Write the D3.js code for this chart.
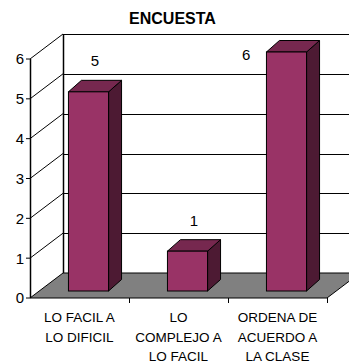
<!DOCTYPE html>
<html>
<head>
<meta charset="utf-8">
<script src="https://cdn.jsdelivr.net/npm/d3@7"></script>
<style>
  html, body { margin: 0; padding: 0; background: #fff; }
  svg { display: block; font-family: Arial, "Liberation Sans", sans-serif; }
</style>
</head>
<body>
<svg id="chart" width="349" height="364"></svg>
<script>
// Survey results
const title = "ENCUESTA";
const categories = [
  ["LO FACIL A", "LO DIFICIL"],
  ["LO", "COMPLEJO A", "LO FACIL"],
  ["ORDENA DE", "ACUERDO A", "LA CLASE"]
];
const values = [5, 1, 6];
const yTicks = [0, 1, 2, 3, 4, 5, 6];

const W = 349, H = 364;
const svg = d3.select("#chart");

// Front plane of the plot box
const x0 = 30, x1 = 327;
const yBottom = 298, yTop = 59;
// Oblique depth of the whole box (to the back wall)
const DX = 33, DY = 25;
// Bars sit part-way into the box and have their own depth
const barZx = 9, barZy = 7;      // offset of bar front face from front plane
const barDx = 13, barDy = 11.5;  // bar depth

const x = d3.scaleBand().domain(d3.range(categories.length)).range([x0, x1]).paddingInner(0).paddingOuter(0);
const y = d3.scaleLinear().domain([0, 6]).range([yBottom, yTop]);
const barW = x.bandwidth() * 0.405;

// --- Walls ---
const walls = svg.append("g");
// back wall gridlines
walls.selectAll("line.bg").data(yTicks.filter(d => d > 0)).join("line")
  .attr("x1", x0 + DX).attr("x2", x1 + DX + 20)
  .attr("y1", d => Math.round(y(d) - DY) + 0.5).attr("y2", d => Math.round(y(d) - DY) + 0.5)
  .attr("stroke", "#000").attr("stroke-width", 1);
// side wall gridlines (diagonals)
walls.selectAll("line.sg").data(yTicks.filter(d => d > 0)).join("line")
  .attr("x1", x0).attr("y1", d => y(d))
  .attr("x2", x0 + DX).attr("y2", d => y(d) - DY)
  .attr("stroke", "#000").attr("stroke-width", 1);
// back vertical edge
walls.append("line")
  .attr("x1", x0 + DX + 0.5).attr("x2", x0 + DX + 0.5)
  .attr("y1", y(6) - DY).attr("y2", y(0) - DY)
  .attr("stroke", "#000").attr("stroke-width", 1.5);

// --- Floor ---
svg.append("polygon")
  .attr("points", [[x0, y(0)], [x1, y(0)], [x1 + DX, y(0) - DY], [x0 + DX, y(0) - DY]].map(p => p.join(",")).join(" "))
  .attr("fill", "#808080").attr("stroke", "#000").attr("stroke-width", 1);

// --- Bars ---
const bars = svg.append("g").selectAll("g").data(values).join("g");
bars.each(function (v, i) {
  const g = d3.select(this);
  const bx = x(i) + (x.bandwidth() - barW) / 2 + barZx;
  const by0 = y(0) - barZy;
  const by1 = y(v) - barZy;
  // side face
  g.append("polygon")
    .attr("points", [[bx + barW, by1], [bx + barW + barDx, by1 - barDy], [bx + barW + barDx, by0 - barDy], [bx + barW, by0]].map(p => p.join(",")).join(" "))
    .attr("fill", "#4d1a33").attr("stroke", "#000").attr("stroke-width", 1).attr("stroke-linejoin", "round");
  // top face
  g.append("polygon")
    .attr("points", [[bx, by1], [bx + barDx, by1 - barDy], [bx + barW + barDx, by1 - barDy], [bx + barW, by1]].map(p => p.join(",")).join(" "))
    .attr("fill", "#76284f").attr("stroke", "#000").attr("stroke-width", 1).attr("stroke-linejoin", "round");
  // front face
  g.append("rect")
    .attr("x", bx).attr("y", by1).attr("width", barW).attr("height", by0 - by1)
    .attr("fill", "#993366").attr("stroke", "#000").attr("stroke-width", 1);

  // value label above the top face; beside the bar when there is no room above
  const cx = bx + barW / 2 + barDx / 2;
  const cy = by1 - barDy / 2;
  let lx = cx, ly = cy - 25, anchor = "middle";
  if (ly < y(6) - DY + 10) { lx = bx - 16; ly = cy + 8; anchor = "end"; }
  g.append("text")
    .attr("x", lx).attr("y", ly).attr("dy", "0.36em")
    .attr("text-anchor", anchor).attr("font-size", 15).attr("fill", "#000")
    .text(v);
});

// --- Front axis ---
const axis = svg.append("g");
axis.append("line")
  .attr("x1", x0 + 0.5).attr("x2", x0 + 0.5).attr("y1", y(6)).attr("y2", y(0))
  .attr("stroke", "#000").attr("stroke-width", 1.5);
axis.selectAll("line.t").data(yTicks).join("line")
  .attr("x1", x0 - 4).attr("x2", x0).attr("y1", d => y(d)).attr("y2", d => y(d))
  .attr("stroke", "#000").attr("stroke-width", 1);
axis.selectAll("text").data(yTicks).join("text")
  .attr("x", x0 - 6).attr("y", d => y(d)).attr("dy", "0.36em")
  .attr("text-anchor", "end").attr("font-size", 15).attr("fill", "#000")
  .text(d => d);

// category tick marks
svg.append("g").selectAll("line").data(d3.range(1, categories.length + 1)).join("line")
  .attr("x1", i => Math.round(x0 + i * x.bandwidth()) + 0.5)
  .attr("x2", i => Math.round(x0 + i * x.bandwidth()) + 0.5)
  .attr("y1", y(0)).attr("y2", y(0) + 5)
  .attr("stroke", "#000").attr("stroke-width", 1);

// category labels
const cat = svg.append("g").selectAll("text").data(categories).join("text")
  .attr("text-anchor", "middle").attr("font-size", 13.5).attr("fill", "#000");
cat.each(function (lines, i) {
  d3.select(this).selectAll("tspan").data(lines).join("tspan")
    .attr("x", x(i) + x.bandwidth() / 2)
    .attr("y", (d, k) => 322 + k * 19.5)
    .text(d => d);
});

// title
svg.append("text")
  .attr("x", 172.5).attr("y", 23.5)
  .attr("text-anchor", "middle").attr("font-size", 16).attr("font-weight", "bold")
  .text(title);
</script>
</body>
</html>
